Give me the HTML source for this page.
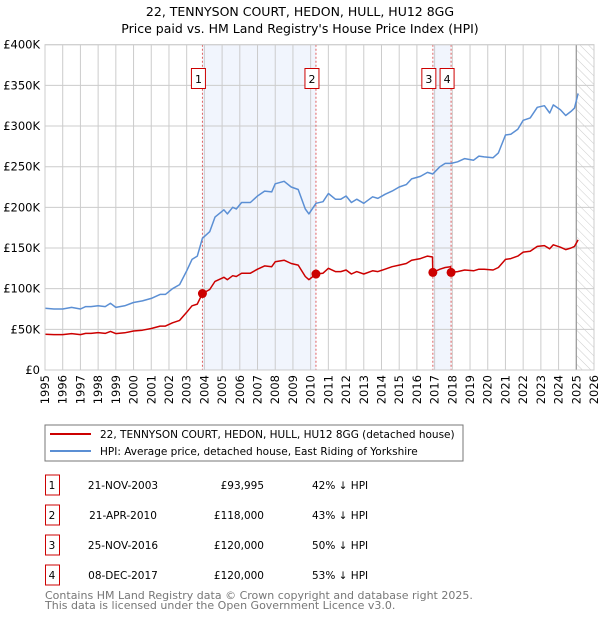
<!DOCTYPE html>
<html><head><meta charset="utf-8"><style>
body{margin:0;background:#fff;font-family:"Liberation Sans","DejaVu Sans",sans-serif;}
svg text{font-family:"DejaVu Sans","Liberation Sans",sans-serif;}
</style></head><body>
<svg id="c" width="600" height="620" viewBox="0 0 600 620">
<defs><pattern id="hatch" width="6" height="6" patternUnits="userSpaceOnUse" patternTransform="rotate(-45)"><line x1="0" y1="0" x2="0" y2="6" stroke="#ccc" stroke-width="1"/></pattern></defs>
<text x="300" y="16" text-anchor="middle" font-size="12.5">22, TENNYSON COURT, HEDON, HULL, HU12 8GG</text>
<text x="300" y="33" text-anchor="middle" font-size="12.5">Price paid vs. HM Land Registry's House Price Index (HPI)</text>
<g id="plot"></g>
<rect x="45" y="425" width="418" height="36" fill="#fff" stroke="#777"/>
<line x1="50" y1="434" x2="91" y2="434" stroke="#cc0000" stroke-width="2"/>
<text x="100" y="438" font-size="10.5">22, TENNYSON COURT, HEDON, HULL, HU12 8GG (detached house)</text>
<line x1="50" y1="451" x2="91" y2="451" stroke="#5b8fd4" stroke-width="2"/>
<text x="100" y="455" font-size="10.5">HPI: Average price, detached house, East Riding of Yorkshire</text>
<g id="table" font-size="10.5"></g>
<text x="45" y="599" font-size="11" fill="#777">Contains HM Land Registry data © Crown copyright and database right 2025.</text>
<text x="45" y="609" font-size="11" fill="#777">This data is licensed under the Open Government Licence v3.0.</text>
</svg>
<script>
const hpiYears=[1995.0,1995.5,1996.0,1996.5,1997.0,1997.3,1997.6,1998.0,1998.4,1998.7,1999.0,1999.5,2000.0,2000.5,2001.0,2001.5,2001.8,2002.2,2002.6,2003.0,2003.3,2003.6,2003.89,2004.3,2004.6,2005.1,2005.3,2005.6,2005.8,2006.1,2006.6,2007.0,2007.4,2007.8,2008.0,2008.5,2008.9,2009.3,2009.7,2009.9,2010.3,2010.7,2011.0,2011.4,2011.7,2012.0,2012.3,2012.6,2013.0,2013.5,2013.8,2014.2,2014.6,2015.0,2015.4,2015.7,2016.2,2016.6,2016.9,2017.3,2017.6,2017.93,2018.3,2018.7,2019.2,2019.5,2019.8,2020.3,2020.6,2021.0,2021.3,2021.7,2022.0,2022.4,2022.8,2023.2,2023.5,2023.7,2024.1,2024.4,2024.7,2024.9,2025.1];
const hpiValues=[76,75,75,77,75,78,78,79,78,82,77,79,83,85,88,93,93,100,105,122,136,140,162,170,188,197,192,200,198,206,206,214,220,219,229,232,225,222,198,192,205,207,217,210,210,214,206,210,205,213,211,216,220,225,228,235,238,243,241,250,254,254,256,260,258,263,262,261,267,289,290,296,307,310,323,325,316,326,320,313,318,322,340];
const priceYears=[1995.0,1995.5,1996.0,1996.5,1997.0,1997.3,1997.6,1998.0,1998.4,1998.7,1999.0,1999.5,2000.0,2000.5,2001.0,2001.5,2001.8,2002.2,2002.6,2003.0,2003.3,2003.6,2003.89,2004.3,2004.6,2005.1,2005.3,2005.6,2005.8,2006.1,2006.6,2007.0,2007.4,2007.8,2008.0,2008.5,2008.9,2009.3,2009.7,2009.9,2010.3,2010.7,2011.0,2011.4,2011.7,2012.0,2012.3,2012.6,2013.0,2013.5,2013.8,2014.2,2014.6,2015.0,2015.4,2015.7,2016.2,2016.6,2016.88,2016.9,2017.3,2017.6,2017.9,2017.93,2018.3,2018.7,2019.2,2019.5,2019.8,2020.3,2020.6,2021.0,2021.3,2021.7,2022.0,2022.4,2022.8,2023.2,2023.5,2023.7,2024.1,2024.4,2024.7,2024.9,2025.1];
const priceValues=[44,43.5,43.5,44.7,43.5,45,45,46,45,47.5,44.7,45.8,48,49,51,54,54,58,61,71,79,81,94,99,109,114,111,116,115,119,119,124,128,127,133,135,131,129,115,111,118,119,125,121,121,123,118,121,118,122,121,124,127,129,131,135,137,140,139,120,124,126,127,120,121,123,122,124,124,123,126,136,137,140,145,146,152,153,149,154,151,148,150,152,160];
const saleLabels=["1","2","3","4"];
const saleYears=[2003.89,2010.30,2016.90,2017.93];
const saleValues=[93.995,118,120,120];
const saleDates=["21-NOV-2003","21-APR-2010","25-NOV-2016","08-DEC-2017"];
const salePrices=["£93,995","£118,000","£120,000","£120,000"];
const saleHpi=["42% ↓ HPI","43% ↓ HPI","50% ↓ HPI","53% ↓ HPI"];
const yTicks=[0,50,100,150,200,250,300,350,400];
const yTickLabels=["£0","£50K","£100K","£150K","£200K","£250K","£300K","£350K","£400K"];
const xTicks=[1995,1996,1997,1998,1999,2000,2001,2002,2003,2004,2005,2006,2007,2008,2009,2010,2011,2012,2013,2014,2015,2016,2017,2018,2019,2020,2021,2022,2023,2024,2025,2026];

const NS="http://www.w3.org/2000/svg";
const L=45,R=594,T=44.7,B=370;
const xs=y=>L+(y-1995)/(2026-1995)*(R-L);
const ys=v=>B-v/400*(B-T);
const g=document.getElementById('plot');
function mk(tag,attrs,parent){const e=document.createElementNS(NS,tag);for(const k in attrs)e.setAttribute(k,attrs[k]);(parent||g).appendChild(e);return e;}
[[0,1],[2,3]].forEach(function(p,i){
 const e=mk('rect',{x:xs(saleYears[p[0]]),y:T,width:xs(saleYears[p[1]])-xs(saleYears[p[0]]),height:B-T,fill:'#f1f5fd'});
 
 
});
let h=mk('rect',{x:xs(2025),y:T,width:R-xs(2025),height:B-T,fill:'url(#hatch)'});


yTicks.forEach(function(v,i){
 const l=mk('line',{x1:L,x2:R,y1:ys(v),y2:ys(v),stroke:'#ccc','stroke-width':1});
 
 
 const t=mk('text',{x:40,y:ys(v)+4,'text-anchor':'end','font-size':11.5});
 t.textContent=yTickLabels[i];
 
 
});
xTicks.forEach(function(y){
 const l=mk('line',{x1:xs(y),x2:xs(y),y1:T,y2:B,stroke:'#ccc','stroke-width':1});
 
 
 const t=mk('text',{x:0,y:0,'text-anchor':'end','font-size':11.5,transform:'translate('+(xs(y)+4)+','+(B+5)+') rotate(-90)'});
 t.textContent=y;
 
 
});
let nl=mk('line',{x1:xs(2025),x2:xs(2025),y1:T,y2:B,stroke:'#999','stroke-width':1.2});


saleYears.forEach(function(y,i){
 const l=mk('line',{x1:xs(y),x2:xs(y),y1:T,y2:B,stroke:'#e06060','stroke-width':1,'stroke-dasharray':'2,2'});
 
 
});
function path(xsArr,vs,color,name){
 const d=xsArr.map((y,i)=>(i?'L':'M')+xs(y).toFixed(1)+','+ys(vs[i]).toFixed(1)).join('');
 const p=mk('path',{d:d,fill:'none',stroke:color,'stroke-width':1.5,'stroke-linejoin':'round'});
 
 
}
path(hpiYears,hpiValues,'#5b8fd4','hpi-line');
path(priceYears,priceValues,'#cc0000','price-paid-line');
saleYears.forEach(function(y,i){
 const c=mk('circle',{cx:xs(y),cy:ys(saleValues[i]),r:4.5,fill:'#cc0000'});
 
 
 const bx=xs(y)-11;
 const b=mk('rect',{x:bx,y:68.5,width:14,height:20,fill:'#fff',stroke:'#cc0000'});
 
 
 const t=mk('text',{x:bx+7,y:83,'text-anchor':'middle','font-size':11});
 t.textContent=saleLabels[i];
 
 
});
mk('rect',{x:L,y:T,width:R-L,height:B-T,fill:'none',stroke:'#ccc'});
const tb=document.getElementById('table');
saleLabels.forEach(function(s,i){
 const y0=475+i*30;
 const b=mk('rect',{x:45.5,y:y0,width:14,height:20,fill:'#fff',stroke:'#cc0000'},tb);
 
 
 const cols=[[52,'middle',s,'table-index'],[123,'middle',saleDates[i],'table-date'],[264,'end',salePrices[i],'table-price'],[312,'start',saleHpi[i],'table-hpi-diff']];
 cols.forEach(function(c){
  const t=mk('text',{x:c[0],y:y0+14,'text-anchor':c[1]},tb);
  t.textContent=c[2];
  
  
 });
});
</script>
</body></html>
